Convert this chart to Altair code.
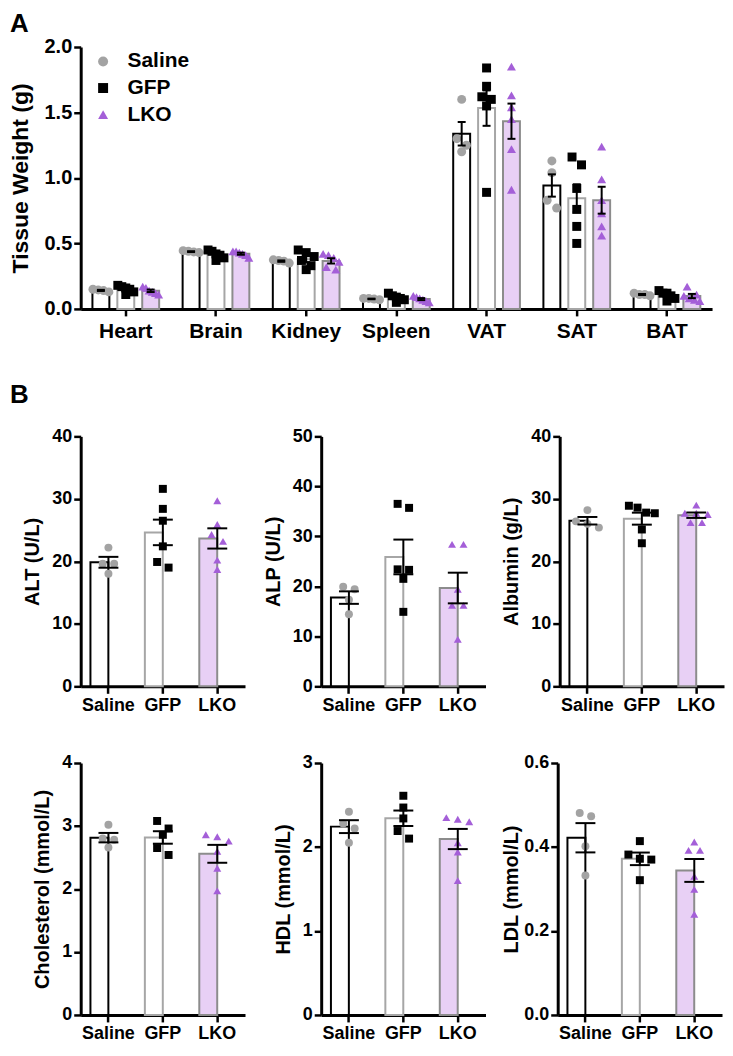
import json
import altair as alt
import pandas as pd

FONT = "Liberation Sans"

groups = ["Saline", "GFP", "LKO"]
point_colors = ["#a3a3a3", "#000000", "#a45fd8"]
point_shapes = ["circle", "square", "triangle-up"]
bar_fills = ["#ffffff", "#ffffff", "#e8d0f5"]
bar_strokes = ["#000000", "#a6a6a6", "#8c8c8c"]

# ---------------- Panel A: tissue weights (g) ----------------
tissues = ["Heart", "Brain", "Kidney", "Spleen", "VAT", "SAT", "BAT"]

heart_saline = [0.13, 0.15, 0.14, 0.145]
heart_gfp = [0.11, 0.13, 0.15, 0.16, 0.17, 0.18]
heart_lko = [0.11, 0.12, 0.13, 0.14, 0.16, 0.17]
brain_saline = [0.43, 0.44, 0.445, 0.435]
brain_gfp = [0.37, 0.39, 0.41, 0.42, 0.44, 0.45]
brain_lko = [0.39, 0.41, 0.42, 0.43, 0.44, 0.44]
kidney_saline = [0.35, 0.365, 0.37, 0.375]
kidney_gfp = [0.30, 0.33, 0.37, 0.40, 0.43, 0.45]
kidney_lko = [0.30, 0.32, 0.36, 0.39, 0.41, 0.42]
spleen_saline = [0.07, 0.08, 0.08, 0.075]
spleen_gfp = [0.05, 0.07, 0.08, 0.09, 0.10, 0.12]
spleen_lko = [0.05, 0.06, 0.07, 0.08, 0.09, 0.10]
vat_saline = [1.60, 1.30, 1.25, 1.20]
vat_gfp = [1.84, 1.70, 1.62, 1.60, 1.55, 0.89]
vat_lko = [1.85, 1.63, 1.54, 1.45, 1.22, 0.91]
sat_saline = [1.13, 1.04, 0.83, 0.77]
sat_gfp = [1.16, 1.10, 0.92, 0.76, 0.63, 0.50]
sat_lko = [1.24, 0.99, 0.83, 0.73, 0.63, 0.56]
bat_saline = [0.10, 0.11, 0.12, 0.11]
bat_gfp = [0.06, 0.08, 0.10, 0.12, 0.14, 0.12]
bat_lko = [0.17, 0.11, 0.10, 0.08, 0.07, 0.06]

tissue_data = [
    (heart_saline, heart_gfp, heart_lko),
    (brain_saline, brain_gfp, brain_lko),
    (kidney_saline, kidney_gfp, kidney_lko),
    (spleen_saline, spleen_gfp, spleen_lko),
    (vat_saline, vat_gfp, vat_lko),
    (sat_saline, sat_gfp, sat_lko),
    (bat_saline, bat_gfp, bat_lko),
]

# ---------------- Panel B: serum chemistry ----------------
alt_saline = [22.2, 19.6, 19.6, 18.0]
alt_gfp = [31.6, 28.4, 26.5, 22.4, 19.9, 19.0]
alt_lko = [29.7, 25.9, 24.3, 23.2, 20.2, 18.7]
alp_saline = [19.9, 19.4, 17.3, 14.4]
alp_gfp = [36.5, 35.7, 23.4, 23.3, 21.5, 14.9]
alp_lko = [28.4, 28.4, 19.4, 16.2, 16.2, 9.4]
alb_saline = [28.2, 26.4, 26.0, 25.4]
alb_gfp = [28.9, 28.6, 27.8, 27.7, 25.1, 22.9]
alb_lko = [29.0, 27.7, 27.7, 27.5, 26.2, 26.2]
chol_saline = [3.02, 2.80, 2.78, 2.66]
chol_gfp = [3.08, 2.96, 2.86, 2.65, 2.54]
chol_lko = [2.86, 2.83, 2.76, 2.60, 2.33, 1.97]
hdl_saline = [2.42, 2.28, 2.22, 2.05]
hdl_gfp = [2.61, 2.47, 2.34, 2.19, 2.10]
hdl_lko = [2.35, 2.33, 2.30, 2.05, 1.94, 1.60]
ldl_saline = [0.481, 0.473, 0.402, 0.332]
ldl_gfp = [0.414, 0.382, 0.372, 0.370, 0.321]
ldl_lko = [0.412, 0.392, 0.392, 0.330, 0.299, 0.240]


def spread(values, ppu, diam, step, maxspan):
    """Prism-like scatter: points that would overlap are spread sideways (px)."""
    n = len(values)
    order = sorted(range(n), key=lambda i: -values[i])
    rows = []
    for i in order:
        if rows and (values[rows[-1][0]] - values[i]) * ppu < diam:
            rows[-1].append(i)
        else:
            rows.append([i])
    off = [0.0] * n
    for r in rows:
        k = len(r)
        s = step if k == 1 else min(step, maxspan / (k - 1))
        for j, i in enumerate(r):
            off[i] = (j - (k - 1) / 2.0) * s
    return off


def yaxis(title, values, fmt, lsize, tsize, tpad):
    return alt.Axis(values=values, format=fmt, title=title, grid=False,
                    domainColor="black", domainWidth=3, tickColor="black",
                    tickWidth=2.5, tickSize=7, labelFont=FONT, labelFontSize=lsize,
                    labelFontWeight="bold", labelColor="black", labelPadding=2,
                    titleFont=FONT, titleFontSize=tsize, titleFontWeight="bold",
                    titleColor="black", titlePadding=tpad)


def xaxis(lsize, lpad):
    return alt.Axis(title=None, grid=False, domainColor="black", domainWidth=3,
                    tickColor="black", tickWidth=2.5, tickSize=7, labelFont=FONT,
                    labelFontSize=lsize, labelFontWeight="bold", labelColor="black",
                    labelPadding=lpad, labelAngle=0)


def label_text(txt, xv, yv):
    return alt.Chart(pd.DataFrame({"t": [txt]})).mark_text(
        align="left", baseline="alphabetic", font=FONT, fontSize=26,
        fontWeight="bold", color="black"
    ).encode(x=alt.value(xv), y=alt.value(yv), text=alt.Text("t:N"))


def anchor(xv):
    return alt.Chart(pd.DataFrame({"a": [0]})).mark_rule(
        opacity=0, color="white", strokeWidth=1
    ).encode(x=alt.value(xv), y=alt.value(100), y2=alt.value(102))


# bar fill/stroke scales use the reversed domain so their (hidden) legends are
# never merged with the point legend
fill_enc = alt.Fill("group:N", scale=alt.Scale(domain=groups[::-1], range=bar_fills[::-1]), legend=None)
stroke_enc = alt.Stroke("group:N", scale=alt.Scale(domain=groups[::-1], range=bar_strokes[::-1]), legend=None)
xo_scale = alt.Scale(domain=[0, 100], range=[0, 100])

LEFT = -71  # panel labels / left edge, relative to first-column plot origin

# ---------------- Panel A chart ----------------
A_W, A_H = 634, 263
A_BW = 75.0
A_PI = 1 - A_BW / (A_W / 7.0)
A_SUB = A_BW / 3.0

recs = []
for t, vals3 in zip(tissues, tissue_data):
    for gi, (g, vals) in enumerate(zip(groups, vals3)):
        offs = spread(vals, A_H / 2.0, 9, 9.5, 16)
        for v, o in zip(vals, offs):
            recs.append({"tissue": t, "group": g, "value": v, "xo": A_SUB * (gi + 0.5) + o})
dfA = pd.DataFrame(recs)

xA = alt.X("tissue:N", scale=alt.Scale(domain=tissues, paddingInner=A_PI, paddingOuter=A_PI / 2),
           axis=xaxis(21, 5), title=None)
ysA = alt.Scale(domain=[0, 2], nice=False)
axA = yaxis("Tissue Weight (g)", [0, 0.5, 1, 1.5, 2], ".1f", 20, 23, 12)


def YA(f):
    return alt.Y(f, scale=ysA, axis=axA, title="Tissue Weight (g)")


legA = alt.Legend(orient="none", legendX=12, legendY=4, title=None, labelFont=FONT,
                  labelFontSize=21, labelFontWeight="bold", labelColor="black",
                  symbolSize=100, rowPadding=4.7, labelOffset=14, padding=0)

baseA = alt.Chart(dfA)
barsA = baseA.mark_bar(strokeWidth=2, opacity=1).encode(
    x=xA,
    xOffset=alt.XOffset("group:N", scale=alt.Scale(domain=groups, paddingInner=0.32, paddingOuter=0.16)),
    y=YA("mean(value):Q"), fill=fill_enc, stroke=stroke_enc)
ptsA = baseA.mark_point(filled=True, size=81, opacity=1).encode(
    x=xA, xOffset=alt.XOffset("xo:Q", scale=xo_scale), y=YA("value:Q"),
    color=alt.Color("group:N", scale=alt.Scale(domain=groups, range=point_colors), legend=legA),
    shape=alt.Shape("group:N", scale=alt.Scale(domain=groups, range=point_shapes), legend=legA))
errA = baseA.transform_aggregate(
    m="mean(value)", se="stderr(value)", groupby=["tissue", "group"]
).transform_calculate(
    lo="datum.m - datum.se", hi="datum.m + datum.se",
    xo=f"indexof({json.dumps(groups)}, datum.group) * {A_SUB} + {A_SUB / 2}")
ruleA = errA.mark_rule(color="black", strokeWidth=2, opacity=1).encode(
    x=xA, xOffset=alt.XOffset("xo:Q", scale=xo_scale), y=YA("lo:Q"), y2="hi:Q")
tloA = errA.mark_tick(color="black", thickness=2, size=8, opacity=1).encode(
    x=xA, xOffset=alt.XOffset("xo:Q", scale=xo_scale), y=YA("lo:Q"))
thiA = errA.mark_tick(color="black", thickness=2, size=8, opacity=1).encode(
    x=xA, xOffset=alt.XOffset("xo:Q", scale=xo_scale), y=YA("hi:Q"))

panelA = alt.layer(barsA, ptsA, ruleA, tloA, thiA, label_text("A", LEFT, -15.5)).resolve_scale(
    xOffset="independent").properties(width=A_W, height=A_H)

# ---------------- Panel B charts ----------------
B_W = 165
B_PI, B_PO = 0.339, 0.179
B_STEP = B_W / (3 - B_PI + 2 * B_PO)
B_BW = B_STEP * (1 - B_PI)


def b_chart(vals3, title, ymax, tvals, fmt, anchor_x, height, title_pad=9, panel_label=None):
    ppu = height / float(ymax)
    rr = []
    for g, vals in zip(groups, vals3):
        offs = spread(vals, ppu, 8, 11.5, 26)
        for v, o in zip(vals, offs):
            rr.append({"group": g, "value": v, "xo": B_BW / 2 + o})
    df = pd.DataFrame(rr)
    base = alt.Chart(df)
    x = alt.X("group:N", scale=alt.Scale(domain=groups, paddingInner=B_PI, paddingOuter=B_PO),
              axis=xaxis(18, 3), title=None)
    ysc = alt.Scale(domain=[0, ymax], nice=False)
    yax = yaxis(title, tvals, fmt, 18, 20, title_pad)

    def Y(f):
        return alt.Y(f, scale=ysc, axis=yax, title=title)

    bars = base.mark_bar(strokeWidth=2, opacity=1).encode(
        x=x, y=Y("mean(value):Q"), fill=fill_enc, stroke=stroke_enc)
    pts = base.mark_point(filled=True, size=64, opacity=1).encode(
        x=x, xOffset=alt.XOffset("xo:Q", scale=xo_scale), y=Y("value:Q"),
        color=alt.Color("group:N", scale=alt.Scale(domain=groups, range=point_colors), legend=None),
        shape=alt.Shape("group:N", scale=alt.Scale(domain=groups, range=point_shapes), legend=None))
    err = base.transform_aggregate(
        m="mean(value)", se="stderr(value)", groupby=["group"]
    ).transform_calculate(lo="datum.m - datum.se", hi="datum.m + datum.se")
    rule = err.mark_rule(color="black", strokeWidth=2, opacity=1).encode(x=x, y=Y("lo:Q"), y2="hi:Q")
    tlo = err.mark_tick(color="black", thickness=2, size=20, opacity=1).encode(x=x, y=Y("lo:Q"))
    thi = err.mark_tick(color="black", thickness=2, size=20, opacity=1).encode(x=x, y=Y("hi:Q"))
    layers = [bars, pts, rule, tlo, thi, anchor(anchor_x)]
    if panel_label:
        layers.append(label_text(panel_label, anchor_x, -34))
    return alt.layer(*layers).properties(width=B_W, height=height)


H1, H2 = 251, 253
c_alt = b_chart((alt_saline, alt_gfp, alt_lko), "ALT (U/L)", 40, [0, 10, 20, 30, 40], "d", LEFT, H1,
                panel_label="B")
c_alp = b_chart((alp_saline, alp_gfp, alp_lko), "ALP (U/L)", 50, [0, 10, 20, 30, 40, 50], "d", -60, H1)
c_alb = b_chart((alb_saline, alb_gfp, alb_lko), "Albumin (g/L)", 40, [0, 10, 20, 30, 40], "d", -56, H1)
c_chol = b_chart((chol_saline, chol_gfp, chol_lko), "Cholesterol (mmol/L)", 4, [0, 1, 2, 3, 4], "d", LEFT, H2)
c_hdl = b_chart((hdl_saline, hdl_gfp, hdl_lko), "HDL (mmol/L)", 3, [0, 1, 2, 3], "d", -60, H2)
c_ldl = b_chart((ldl_saline, ldl_gfp, ldl_lko), "LDL (mmol/L)", 0.6, [0, 0.2, 0.4, 0.6], ".1f", -56, H2,
                title_pad=2)

row1 = alt.hconcat(c_alt, c_alp, c_alb, spacing=14.5)
row2 = alt.hconcat(c_chol, c_hdl, c_ldl, spacing=14.5)

chart = alt.vconcat(panelA, row1, row2, spacing=38).resolve_scale(
    color="independent", shape="independent", fill="independent", stroke="independent"
).configure_view(stroke="transparent").properties(padding=0)

chart.save("out.html", embed_options={"renderer": "svg", "actions": False})
